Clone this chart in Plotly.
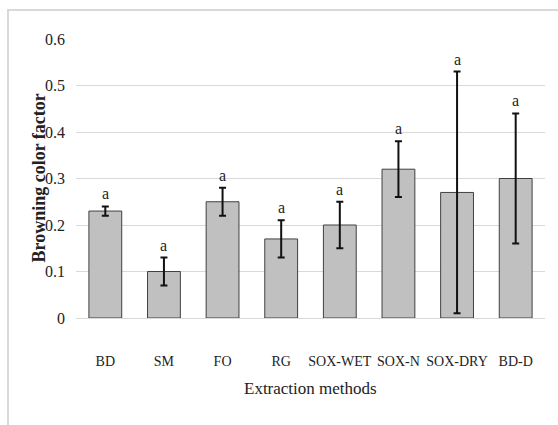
import plotly.graph_objects as go

categories = ["BD", "SM", "FO", "RG", "SOX-WET", "SOX-N", "SOX-DRY", "BD-D"]
values = [0.23, 0.10, 0.25, 0.17, 0.20, 0.32, 0.27, 0.30]
err_plus = [0.01, 0.03, 0.03, 0.04, 0.05, 0.06, 0.26, 0.14]
err_minus = [0.01, 0.03, 0.03, 0.04, 0.05, 0.06, 0.26, 0.14]
letters = ["a"] * 8
y_ticks = [0, 0.1, 0.2, 0.3, 0.4, 0.5, 0.6]
y_tick_text = ["0", "0.1", "0.2", "0.3", "0.4", "0.5", "0.6"]

SERIF = "Liberation Serif"
L, R, T, B = 76, 13, 39, 107
W, H = 558, 425
pw, ph = W - L - R, H - T - B

fig = go.Figure()
fig.add_trace(go.Bar(
    x=categories, y=values,
    marker=dict(color="#c0c0c0", line=dict(color="#404040", width=1)),
    error_y=dict(type="data", symmetric=False, array=err_plus, arrayminus=err_minus,
                 color="#111111", thickness=2, width=3.5),
))

for c, v, e, t in zip(categories, values, err_plus, letters):
    fig.add_annotation(x=c, y=v + e, text=t, showarrow=False, yanchor="bottom", yshift=2,
                       font=dict(family=SERIF, size=16, color="#222"))

fig.add_annotation(xref="paper", yref="paper", x=0.5, y=(ph - (388 - T)) / ph,
                   xanchor="center", yanchor="middle",
                   text="Extraction methods", showarrow=False,
                   font=dict(family=SERIF, size=17, color="#222"))
fig.add_annotation(xref="paper", yref="paper", x=(38 - L) / pw, y=0.5,
                   xanchor="center", yanchor="middle",
                   text="<b>Browning color factor</b>", showarrow=False, textangle=-90,
                   font=dict(family=SERIF, size=18, color="#222"))

# outer frame
fig.add_shape(type="rect", xref="paper", yref="paper",
              x0=(8 - L) / pw, x1=(570 - L) / pw,
              y0=(ph - (440 - T)) / ph, y1=(ph - (10 - T)) / ph,
              line=dict(color="#d9d9d9", width=2), layer="below")

fig.update_layout(
    width=W, height=H,
    margin=dict(l=L, r=R, t=T, b=B),
    paper_bgcolor="white", plot_bgcolor="white",
    bargap=0.44, showlegend=False,
    font=dict(family=SERIF, color="#222"),
    xaxis=dict(showgrid=False, showline=False, ticks="", ticklabelstandoff=33,
               tickangle=0,
               tickfont=dict(family=SERIF, size=14, color="#222")),
    yaxis=dict(range=[0, 0.6], tickvals=y_ticks, ticktext=y_tick_text,
               showgrid=True, gridcolor="#d9d9d9", gridwidth=1,
               zeroline=True, zerolinecolor="#d9d9d9", zerolinewidth=1,
               showline=False, ticks="", ticklabelstandoff=10,
               tickfont=dict(family=SERIF, size=16, color="#222")),
)

fig.write_html("out.html")
